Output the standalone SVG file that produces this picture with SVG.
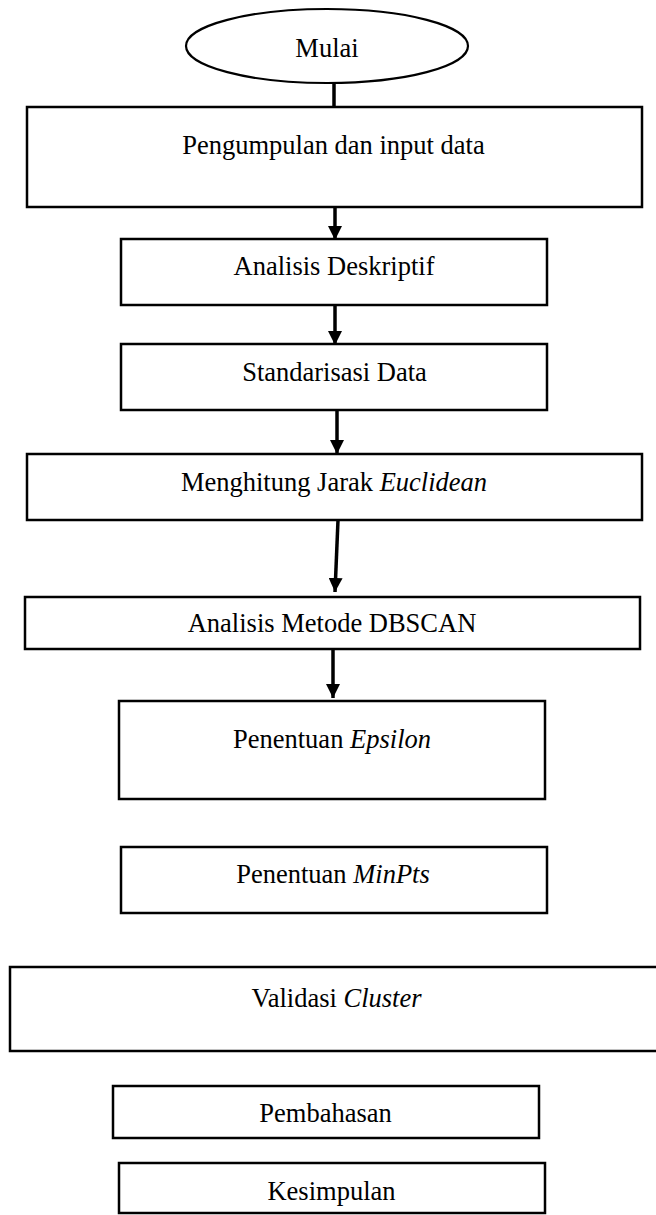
<svg xmlns="http://www.w3.org/2000/svg" width="656" height="1215" viewBox="0 0 656 1215">
<style>
.box{fill:#fff;stroke:#000;stroke-width:2.5}
.lbl{font-family:"Liberation Serif","Times New Roman",serif;font-size:26.5px;fill:#000;text-anchor:middle}
.it{font-style:italic}
.con{stroke:#000;stroke-width:3.5;fill:none}
</style>
<defs>
<marker id="ah" markerUnits="userSpaceOnUse" markerWidth="16" markerHeight="14" refX="14" refY="7" orient="auto">
<path d="M0,0 L14,7 L0,14 z" fill="#000"/>
</marker>
</defs>
<rect width="656" height="1215" fill="#fff"/>
<g id="connectors">
<line class="con" x1="334" y1="84" x2="334" y2="107"/>
<line class="con" x1="335" y1="200" x2="335" y2="240" marker-end="url(#ah)"/>
<line class="con" x1="335" y1="305" x2="335" y2="345" marker-end="url(#ah)"/>
<line class="con" x1="337" y1="410" x2="337" y2="454" marker-end="url(#ah)"/>
<line class="con" x1="338" y1="520" x2="335" y2="592" marker-end="url(#ah)"/>
<line class="con" x1="333" y1="649" x2="333" y2="698" marker-end="url(#ah)"/>
</g>
<g id="n-mulai">
<ellipse cx="327" cy="46" rx="141" ry="37" fill="#fff" stroke="#000" stroke-width="2.2"/>
<text class="lbl" x="327" y="57">Mulai</text>
</g>
<g id="n-pengumpulan">
<rect class="box" x="27" y="107" width="615" height="100"/>
<text class="lbl" x="333.5" y="154">Pengumpulan dan input data</text>
</g>
<g id="n-deskriptif">
<rect class="box" x="121" y="239" width="426" height="66"/>
<text class="lbl" x="334" y="275">Analisis Deskriptif</text>
</g>
<g id="n-standarisasi">
<rect class="box" x="121" y="344" width="426" height="66"/>
<text class="lbl" x="334.5" y="381">Standarisasi Data</text>
</g>
<g id="n-euclidean">
<rect class="box" x="27" y="454" width="615" height="66"/>
<text class="lbl" x="334" y="491">Menghitung Jarak <tspan class="it">Euclidean</tspan></text>
</g>
<g id="n-dbscan">
<rect class="box" x="25" y="597" width="615" height="52"/>
<text class="lbl" x="332" y="632">Analisis Metode DBSCAN</text>
</g>
<g id="n-epsilon">
<rect class="box" x="119" y="701" width="426" height="98"/>
<text class="lbl" x="332" y="748">Penentuan <tspan class="it">Epsilon</tspan></text>
</g>
<g id="n-minpts">
<rect class="box" x="121" y="847" width="426" height="66"/>
<text class="lbl" x="333" y="883">Penentuan <tspan class="it">MinPts</tspan></text>
</g>
<g id="n-validasi">
<rect class="box" x="10" y="967" width="660" height="84"/>
<text class="lbl" x="336.5" y="1007">Validasi <tspan class="it">Cluster</tspan></text>
</g>
<g id="n-pembahasan">
<rect class="box" x="113" y="1086" width="426" height="52"/>
<text class="lbl" x="325.5" y="1122">Pembahasan</text>
</g>
<g id="n-kesimpulan">
<rect class="box" x="119" y="1163" width="426" height="50"/>
<text class="lbl" x="331.5" y="1200">Kesimpulan</text>
</g>
</svg>
